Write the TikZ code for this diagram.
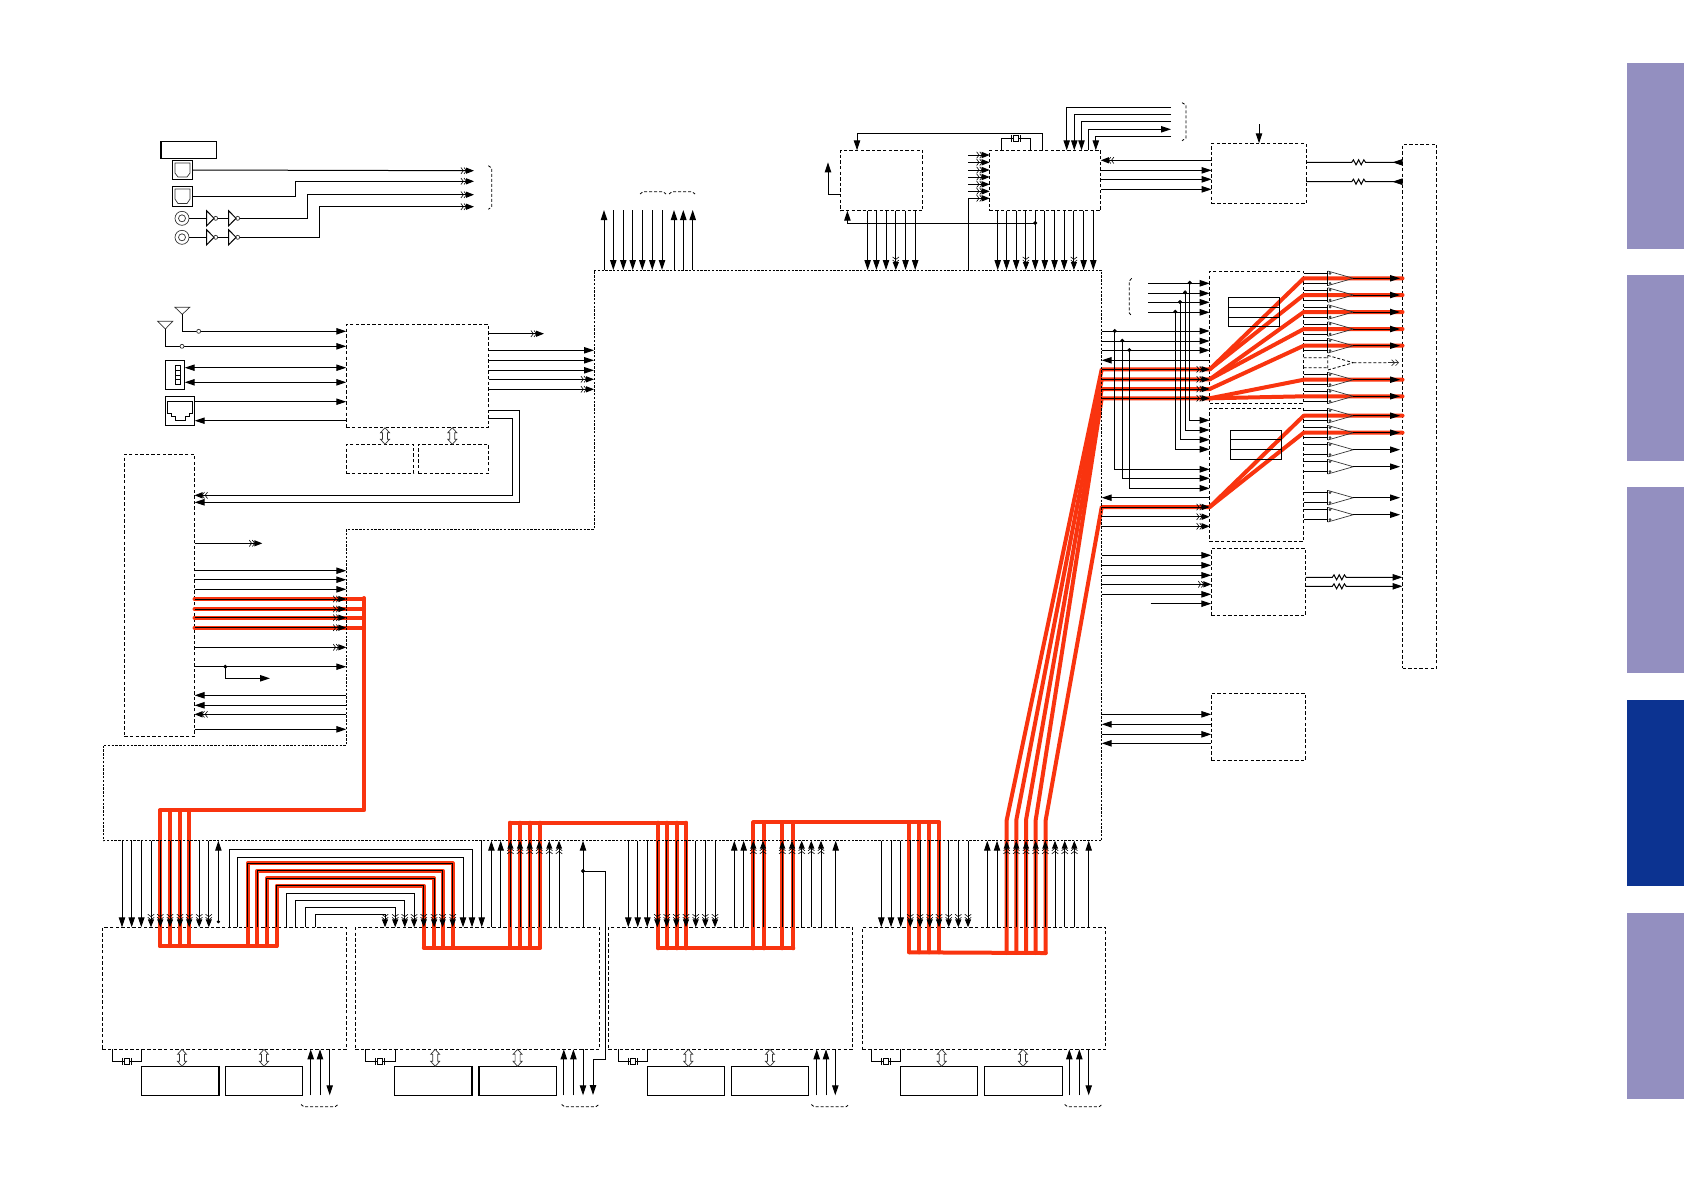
\documentclass[tikz,border=0pt]{standalone}
\usepackage{tikz}
\usetikzlibrary{arrows.meta}

\definecolor{busred}{HTML}{F9340F}
\definecolor{tablight}{HTML}{938FC0}
\definecolor{tabdark}{HTML}{0C3391}

\tikzset{
    wire/.style={line width=0.5pt},
    arr/.style={-{Triangle[length=5pt,width=3.2pt]}},
    dbl/.style={-{Straight Barb[length=1.2pt,width=3.2pt,line width=0.3pt] Straight Barb[length=1.2pt,width=3.2pt,line width=0.3pt,sep=-0.4pt] Triangle[length=4pt,width=3pt]}},
    icbox/.style={draw,line width=0.5pt,dash pattern=on 1.7pt off 1.1pt,inner sep=0pt,outer sep=0pt},
    solidbox/.style={draw,line width=0.55pt,inner sep=0pt,outer sep=0pt},
    edge/.style={line width=0.5pt,dash pattern=on 1.2pt off 0.7pt},
    brace/.style={line width=0.4pt,dash pattern=on 1.5pt off 1pt},
    redbus/.style={draw=busred,line width=2pt,line join=round,line cap=round},
    thinline/.style={line width=0.35pt,draw=black!80},
    junction/.style={fill=black}
}

\newcommand{\blockat}[6][icbox]{\node[#1,minimum width={(#5-#3)*0.5pt},minimum height={(#6-#4)*0.5pt}] (#2) at ({(#3+#5)/2},{(#4+#6)/2}) {};}
\newcommand{\busarrow}[3]{\draw[thinline] (#1,#2) -- ({#1+4.5},{#2+5}) -- ({#1+2.5},{#2+5}) -- ({#1+2.5},{#3-5}) -- ({#1+4.5},{#3-5}) -- (#1,#3) -- ({#1-4.5},{#3-5}) -- ({#1-2.5},{#3-5}) -- ({#1-2.5},{#2+5}) -- ({#1-4.5},{#2+5}) -- cycle;}
\newcommand{\xtal}[2]{\draw[wire] (#1,{#2}) ++(-4.5,-3.5) -- ++(0,7) ++(9,0) -- ++(0,-7); \draw[wire,fill=white] ({#1-2.5},{#2-3.3}) rectangle ({#1+2.5},{#2+3.3});}

\begin{document}
\begin{tikzpicture}[x=0.5pt,y=-0.5pt]
        \useasboundingbox (0,0) rectangle (1684,1191);

        \foreach \y in {63,275,487,913} \fill[tablight] (1627,\y) rectangle (1684,\y+186);
        \fill[tabdark] (1627,700) rectangle (1684,886);

        \coordinate (mainN) at (594,270);
        \coordinate (mainE) at (1101.7,270);
        \coordinate (mainS) at (103,840.7);
        \coordinate (mainNotch) at (346.3,529.3);

        \blockat{tuner}{346.3}{324.3}{488.7}{427.3}
        \blockat{flashA}{346.3}{444.3}{413.7}{473.3}
        \blockat{flashB}{418.3}{444.3}{488.7}{473.3}
        \blockat{sideic}{124.3}{454.3}{194.5}{736.3}
        \blockat{clockic}{840.3}{150.3}{922.7}{210.7}
        \blockat{audioic}{989.7}{150.3}{1100.8}{210.7}
        \blockat{codec}{1211.6}{143.3}{1306}{203.7}
        \blockat{strip}{1402.5}{144.3}{1436.7}{668.3}
        \blockat{ampA}{1209.7}{271}{1303.7}{403.3}
        \blockat{ampB}{1209.7}{408.3}{1303.7}{541.3}
        \blockat{ampC}{1211.3}{548.3}{1305.7}{615.3}
        \blockat{ampD}{1211.3}{693.3}{1305.7}{760.3}
        \blockat{decA}{102.4}{927.3}{346.5}{1049.3}
        \blockat{decB}{355.2}{927.3}{599.6}{1049.3}
        \blockat{decC}{608.3}{927.3}{852.7}{1049.3}
        \blockat{decD}{862.3}{927.3}{1105.7}{1049.3}
        \blockat[solidbox]{ramAa}{141.4}{1066.3}{219}{1095.3}
        \blockat[solidbox]{ramAb}{225.5}{1066.3}{302.8}{1095.3}
        \blockat[solidbox]{ramBa}{394.8}{1066.3}{472}{1095.3}
        \blockat[solidbox]{ramBb}{479}{1066.3}{556.2}{1095.3}
        \blockat[solidbox]{ramCa}{647.3}{1066.3}{724.3}{1095.3}
        \blockat[solidbox]{ramCb}{731.3}{1066.3}{808.7}{1095.3}
        \blockat[solidbox]{ramDa}{900.3}{1066.3}{977.7}{1095.3}
        \blockat[solidbox]{ramDb}{984.3}{1066.3}{1062.7}{1095.3}
        \blockat[solidbox]{optlabel}{161}{141.3}{216.7}{158.7}
        \blockat[solidbox]{optA}{172.3}{160.3}{192.7}{179.7}
        \blockat[solidbox]{optB}{172.3}{186.3}{192.7}{206.7}
        \blockat[solidbox]{usb}{165.3}{360.3}{184.7}{389.3}
        \blockat[solidbox]{lan}{165.3}{396.3}{194.7}{425.3}

        \foreach \y in {599,609,617.7,627.7} \draw[redbus] (sideic.east |- 0,\y) -- (364,\y);
        \draw[redbus] (364,598) -- (364,810.3) -- (160,810.3);
        \foreach \x in {160,170,180,189.2} \draw[redbus] (\x,810.3) -- (\x,946);
        \draw[redbus] (160,946) -- (276.6,946);
        \foreach \xa/\ya/\xb in {247.6/863.3/452.7,257.2/870.7/442.6,266.9/878.3/434.1,276.6/885.7/423.8}
            \draw[redbus] (\xa,946) |- (\xb,\ya) -- (\xb,947.7);
        \draw[redbus] (423.8,947.7) -- (540,947.7);
        \foreach \x in {510,520,529.7,540} \draw[redbus] (\x,947.7) -- (\x,822.7);
        \draw[redbus] (510,822.7) -- (686,822.7);
        \foreach \x in {658.3,667.3,676.7,686} \draw[redbus] (\x,822.7) -- (\x,948.3);
        \draw[redbus] (658.3,948.3) -- (793.3,948.3);
        \foreach \x in {753.3,764,782.3,793.3} \draw[redbus] (\x,948.3) -- (\x,822.3);
        \draw[redbus] (753.3,822.3) -- (939,822.3);
        \foreach \x in {909.3,919.3,929.3,939} \draw[redbus] (\x,822.3) -- (\x,952.3);
        \draw[redbus] (909.3,952.3) -- (1045.7,953);
        \foreach \x/\y in {1006.7/369.3,1016.3/379.3,1026/389,1035.7/398.3,1045.7/507}
            \draw[redbus] (\x,953) -- (\x,820) -- (mainE |- 0,\y) -- (ampA.west |- 0,\y);
        \foreach \ya/\yb in {369.3/278.3,369.3/295,379.3/312,379.3/329,389/345.7,398.3/379.7,398.3/396.3,507/415.7,507/432.7}
            \draw[redbus] (ampA.west |- 0,\ya) -- (ampA.east |- 0,\yb) -- (strip.west |- 0,\yb);

        \draw[edge] (mainN) -- (mainE) -- (mainE |- mainS) -- (mainS) -- (103,745.3) -- (346.3,745.3) -- (mainNotch) -- (mainN |- mainNotch) -- cycle;

        \draw[solidbox] (1228.3,297.3) rectangle (1279.7,326.3);
        \foreach \y in {307.3,317.3} \draw[wire] (1228.3,\y) -- (1279.7,\y);
        \draw[solidbox] (1230.3,430.3) rectangle (1281.7,459.3);
        \foreach \y in {439.7,449.3} \draw[wire] (1230.3,\y) -- (1281.7,\y);

        \draw[thinline] (175,163) -- (190,163) -- (190,173) -- (187,177) -- (178,177) -- (175,173) -- cycle;
        \draw[thinline] (175,189) -- (190,189) -- (190,199) -- (187,203.5) -- (178,203.5) -- (175,199) -- cycle;
        \draw[wire] (175.3,365.3) rectangle (180,384.7);
        \foreach \y in {370.2,375,379.8} \draw[wire] (175.3,\y) -- (180,\y);
        \draw[wire] (167.3,401.7) -- (192.7,401.7) -- (192.7,413) -- (189,413) -- (189,416) -- (185,416) -- (185,420) -- (175,420) -- (175,416) -- (171,416) -- (171,413) -- (167.3,413) -- cycle;

        \draw[wire,dbl] (optA.east) -- (474,170.7);
        \draw[wire,dbl] (optB.east |- 0,196.3) -- (295.3,196.3) |- (474,181.3);
        \foreach \y/\xk/\yk in {218.3/307.7/194.7,237.3/319.3/206.7} {
            \draw[thinline] (182,\y) circle (7) (182,\y) circle (3.5);
            \draw[wire] (189,\y) -- (206.7,\y) (217.7,\y) -- (228.7,\y);
            \draw[wire] (206.7,\y-7.5) -- (214,\y) -- (206.7,\y+7.5) -- cycle;
            \draw[thinline] (215.7,\y) circle (2);
            \draw[wire] (228.7,\y-7.5) -- (236,\y) -- (228.7,\y+7.5) -- cycle;
            \draw[thinline] (237.7,\y) circle (2);
            \draw[wire,dbl] (239.7,\y) -- (\xk,\y) |- (474,\yk);
        }
        \draw[brace] (488.3,165.7) -- (491.7,168) -- (491.7,207) -- (488.3,209.3);

        \draw[thinline] (175,307.3) -- (189.7,307.3) -- (182.3,314.3) -- cycle;
        \draw[thinline] (157.7,321.3) -- (172.7,321.3) -- (165.3,329) -- cycle;
        \draw[wire,arr] (182.3,314.3) |- (tuner.west |- 0,331.3);
        \draw[wire,arr] (165.3,329) |- (tuner.west |- 0,346.3);
        \draw[thinline,fill=white] (198.7,331.3) circle (2) (182,346.3) circle (2);
        \foreach \y in {367.7,382.3} \draw[wire,{Triangle[length=5pt,width=3.2pt]}-{Triangle[length=5pt,width=3.2pt]}] (usb.east |- 0,\y) -- (tuner.west |- 0,\y);
        \draw[wire,arr] (lan.east |- 0,401.7) -- (tuner.west |- 0,401.7);
        \draw[wire,arr] (tuner.west |- 0,420.7) -- (lan.east |- 0,420.7);

        \draw[wire,dbl] (tuner.east |- 0,333.7) -- (544,333.7);
        \foreach \y in {350.3,360.3,370.3} \draw[wire,arr] (tuner.east |- 0,\y) -- (mainN |- 0,\y);
        \foreach \y in {379.3,389.3} \draw[wire,dbl] (tuner.east |- 0,\y) -- (mainN |- 0,\y);
        \draw[wire,arr] (tuner.east |- 0,410.7) -- (519.3,410.7) |- (sideic.east |- 0,502.3);
        \draw[wire,dbl] (tuner.east |- 0,418.3) -- (512.7,418.3) |- (sideic.east |- 0,495.3);
        \busarrow{385}{427.7}{444.3}
        \busarrow{452.3}{427.7}{444.3}

        \draw[wire,dbl] (sideic.east |- 0,543.3) -- (262.3,543.3);
        \foreach \y in {570.7,579.7,589.3,666.7,729.3} \draw[wire,arr] (sideic.east |- 0,\y) -- (mainNotch |- 0,\y);
        \foreach \y in {599,609,617.7,627.7,647.3} \draw[wire,dbl] (sideic.east |- 0,\y) -- (mainNotch |- 0,\y);
        \foreach \y in {695.3,705.3} \draw[wire,arr] (mainNotch |- 0,\y) -- (sideic.east |- 0,\y);
        \draw[wire,dbl] (mainNotch |- 0,714.3) -- (sideic.east |- 0,714.3);
        \filldraw (225.3,666.7) circle (1.5);
        \draw[wire,arr] (225.3,666.7) |- (270,678.3);

        \draw[wire,arr] (604,270) -- (604,210);
        \foreach \x in {613.3,623.3,632.7,642.3,652.3,662} \draw[wire,arr] (\x,210) -- (\x,270);
        \foreach \x in {674,683.3,692.7} \draw[wire,arr] (\x,270) -- (\x,210);
        \draw[brace] (640,194) -- (643,191.7) -- (663,191.7) -- (666,194);
        \draw[brace] (669,194) -- (672,191.7) -- (692,191.7) -- (695,194);

        \draw[wire,arr] (1042.7,150.3) |- (857,133.3) -- (clockic.north -| 857,0);
        \draw[wire] (1001.5,150.3) |- (1030.5,138.3) -- (1030.5,150.3);
        \xtal{1016}{138.3}
        \foreach \x/\y in {1066.7/107.3,1074.3/114.3,1081.5/121.7,1095.8/136.3} \draw[wire,arr] (1171,\y) -| (\x,150.3);
        \draw[wire,arr] (1088.6,150.3) |- (1171,129.3);
        \draw[brace] (1182,102.7) -- (1186,105) -- (1186,138) -- (1182,140.7);
        \draw[wire,arr] (clockic.west |- 0,194.3) -| (828,162.3);
        \draw[wire,arr] (1035.2,223.3) -- (847.4,223.3) -- (847.4,210.7);
        \filldraw (1035.2,223) circle (1.5);
        \foreach \x in {867.6,876.4,886,905.5,915.2} \draw[wire,arr] (\x,210.7) -- (\x,270);
        \draw[wire,dbl] (895.8,210.7) -- (895.8,270);
        \foreach \x in {997.7,1006.5,1016.2,1035.2,1044.8,1054.5,1064.2,1083.6,1093.3} \draw[wire,arr] (\x,210.7) -- (\x,270);
        \foreach \x in {1025.9,1073.9} \draw[wire,dbl] (\x,210.7) -- (\x,270);
        \foreach \y in {155,162.3,170,177,184.3,191.3} \draw[wire,dbl] (968,\y) -- (audioic.west |- 0,\y);
        \draw[wire,dbl] (968.6,270) |- (audioic.west |- 0,198.3);
        \draw[wire,dbl] (codec.west |- 0,160.3) -- (audioic.east |- 0,160.3);
        \foreach \y in {170.3,179.3,189.3} \draw[wire,arr] (audioic.east |- 0,\y) -- (codec.west |- 0,\y);
        \draw[wire,arr] (1259,124) -- (1259,143.3);
        \foreach \y in {162.3,181.7} {
            \draw[wire] (codec.east |- 0,\y) -- (1351.7,\y) -- ++(1.7,-2.5) -- ++(2.6,5) -- ++(2.6,-5) -- ++(2.6,5) -- ++(2.6,-5) -- ++(1.7,2.5) -- (strip.west |- 0,\y);
            \draw[arr] (strip.west |- 0,\y) -- ++(-10,0);
        }

        \draw[brace] (1131.7,278.3) -- (1129.3,281) -- (1129.3,313) -- (1131.7,316);
        \foreach \y in {283.3,293.3,302.3,312.3} \draw[wire,arr] (1148.3,\y) -- (ampA.west |- 0,\y);
        \foreach \x/\ya/\yb in {1189.7/282.7/420.3,1185/292.3/430,1180/302/439.7,1175.3/311.7/449.3} {
            \filldraw (\x,\ya) circle (1.5);
            \draw[wire,arr] (\x,\ya) |- (ampB.west |- 0,\yb);
        }
        \foreach \y in {331,341,350.3} \draw[wire,arr] (mainE |- 0,\y) -- (ampA.west |- 0,\y);
        \draw[wire,arr] (ampA.west |- 0,360.3) -- (mainE |- 0,360.3);
        \foreach \y in {369.3,379.3,389,398.3} \draw[wire,dbl] (mainE |- 0,\y) -- (ampA.west |- 0,\y);
        \foreach \x/\ya/\yb in {1114.7/331/469.3,1122.3/340.7/478.3,1129.3/350/488.3} {
            \filldraw (\x,\ya) circle (1.5);
            \draw[wire,arr] (\x,\ya) |- (ampB.west |- 0,\yb);
        }
        \draw[wire,arr] (ampB.west |- 0,497.7) -- (mainE |- 0,497.7);
        \foreach \y in {507,516.7,526.3} \draw[wire,dbl] (mainE |- 0,\y) -- (ampB.west |- 0,\y);

        \foreach \y in {555.3,565.3,575.3,594.3} \draw[wire,arr] (mainE |- 0,\y) -- (ampC.west |- 0,\y);
        \draw[wire,dbl] (mainE |- 0,584.3) -- (ampC.west |- 0,584.3);
        \draw[wire,arr] (1150.7,603.7) -- (ampC.west |- 0,603.7);
        \foreach \y in {577.3,586.3}
            \draw[wire,arr] (ampC.east |- 0,\y) -- (1332.3,\y) -- ++(1.7,-2.5) -- ++(2.6,5) -- ++(2.6,-5) -- ++(2.6,5) -- ++(2.6,-5) -- ++(1.7,2.5) -- (strip.west |- 0,\y);
        \foreach \y in {714.3,734.3} \draw[wire,arr] (mainE |- 0,\y) -- (ampD.west |- 0,\y);
        \foreach \y in {724.3,743.3} \draw[wire,arr] (ampD.west |- 0,\y) -- (mainE |- 0,\y);

        \foreach \y in {278.3,295,312,329,345.7,379.7,396.3,415.7,432.7,449.7,466.7,497.7,514.7} {
            \draw[wire] (ampA.east |- 0,\y-5) -- (1327.7,\y-5) (ampA.east |- 0,\y+5) -- (1327.7,\y+5);
            \draw[wire] (1327.7,\y-7.3) -- (1327.7,\y+7.3);
            \draw[thinline] (1327.7,\y-7.3) -- (1353.3,\y) -- (1327.7,\y+7.3);
            \draw[thinline] (1330,\y-5) circle (1) (1330,\y+5) circle (1);
            \draw[wire,arr] (1353.3,\y) -- (1400,\y);
        }
        \draw[brace] (ampA.east |- 0,357.7) -- (1327.7,357.7) (ampA.east |- 0,367.7) -- (1327.7,367.7) (1327.7,355.4) -- (1327.7,370) (1327.7,355.4) -- (1353.3,362.7) -- (1327.7,370) (1353.3,362.7) -- (1388,362.7);
        \draw[thinline,-{Straight Barb[length=1.5pt,width=3pt] Straight Barb[length=1.5pt,width=3pt]}] (1388,362.7) -- (1399,362.7);

        \foreach \x in {122,131.7,141.3} \draw[wire,arr] (\x,0 |- mainS) -- (\x,0 |- decA.north);
        \foreach \x in {151,160.3,170,180,189.2,199.2,208.8} \draw[wire,dbl] (\x,0 |- mainS) -- (\x,0 |- decA.north);
        \filldraw (218.4,921.7) circle (1.2);
        \draw[wire,arr] (218.4,921.7) -- (218.4,0 |- mainS);
        \foreach \xa/\ya/\xb in {229/849.3/472,237.9/857.3/463} \draw[wire,arr] (\xa,0 |- decA.north) |- (\xb,\ya) -- (\xb,0 |- decB.north);
        \foreach \xa/\ya/\xb in {247.6/863.3/452.7,257.2/870.7/442.6,266.9/878.3/434.1,276.6/885.7/423.8,286.6/893.3/414.1,295.9/900.3/404.8,305.9/907.7/395.2,315.5/914.7/385}
            \draw[wire,dbl] (\xa,0 |- decA.north) |- (\xb,\ya) -- (\xb,0 |- decB.north);

        \draw[wire,arr] (481.7,0 |- mainS) -- (481.7,0 |- decB.north);
        \foreach \x in {491.4,500.7,583} \draw[wire,arr] (\x,0 |- decB.north) -- (\x,0 |- mainS);
        \foreach \x in {510.4,520,529.7,539.3,549.3,559} \draw[wire,dbl] (\x,0 |- decB.north) -- (\x,0 |- mainS);
        \filldraw (583,871) circle (1.5);
        \draw[wire,arr] (583,871) -- (605.2,871) |- (593,1059.3) -- (593,1095);

        \foreach \x in {628.3,637.7,647.3} \draw[wire,arr] (\x,0 |- mainS) -- (\x,0 |- decC.north);
        \foreach \x in {657.3,666.7,676.3,686,695.7,705.3,715} \draw[wire,dbl] (\x,0 |- mainS) -- (\x,0 |- decC.north);
        \foreach \x in {734.3,743.7,835.7} \draw[wire,arr] (\x,0 |- decC.north) -- (\x,0 |- mainS);
        \foreach \x in {753.3,763,782.3,792,801.7,811.3,821} \draw[wire,dbl] (\x,0 |- decC.north) -- (\x,0 |- mainS);

        \foreach \x in {881.3,891,900.7} \draw[wire,arr] (\x,0 |- mainS) -- (\x,0 |- decD.north);
        \foreach \x in {910.3,920,929.7,939,948.7,958.3,968} \draw[wire,dbl] (\x,0 |- mainS) -- (\x,0 |- decD.north);
        \foreach \x in {987.3,997,1088.7} \draw[wire,arr] (\x,0 |- decD.north) -- (\x,0 |- mainS);
        \foreach \x in {1006.7,1016.3,1026,1035.7,1045.3,1055,1064.7,1074.3} \draw[wire,dbl] (\x,0 |- decD.north) -- (\x,0 |- mainS);

        \foreach \xa/\xb/\xc/\xd/\xe/\xf/\xg in {112.4/126.9/141.7/182/264/310.7/320,365.9/380.3/395.2/435.2/517.6/563.8/573.4,618.3/632.7/647.7/688.3/770/816.7/826,871.7/886/900.7/941.7/1023/1069.3/1079.3} {
            \draw[wire] (\xa,1049.3) |- (\xc,1061.3) -- (\xc,1049.3);
            \xtal{\xb}{1061.3}
            \busarrow{\xd}{1049.3}{1066.3}
            \busarrow{\xe}{1049.3}{1066.3}
            \draw[wire,arr] (\xf,1095.3) -- (\xf,1049.3);
            \draw[wire,arr] (\xg,1095.3) -- (\xg,1049.3);
        }
        \foreach \x in {329.7,583,835.3,1088.7} \draw[wire,arr] (\x,1049.3) -- (\x,1095.3);
        \foreach \xa/\xb in {301/338,561.7/598.8,811.3/849,1064.7/1102} \draw[brace] (\xa,1104.5) -- (\xa+3,1106.8) -- (\xb-3,1106.8) -- (\xb,1104.5);
\end{tikzpicture}
\end{document}
